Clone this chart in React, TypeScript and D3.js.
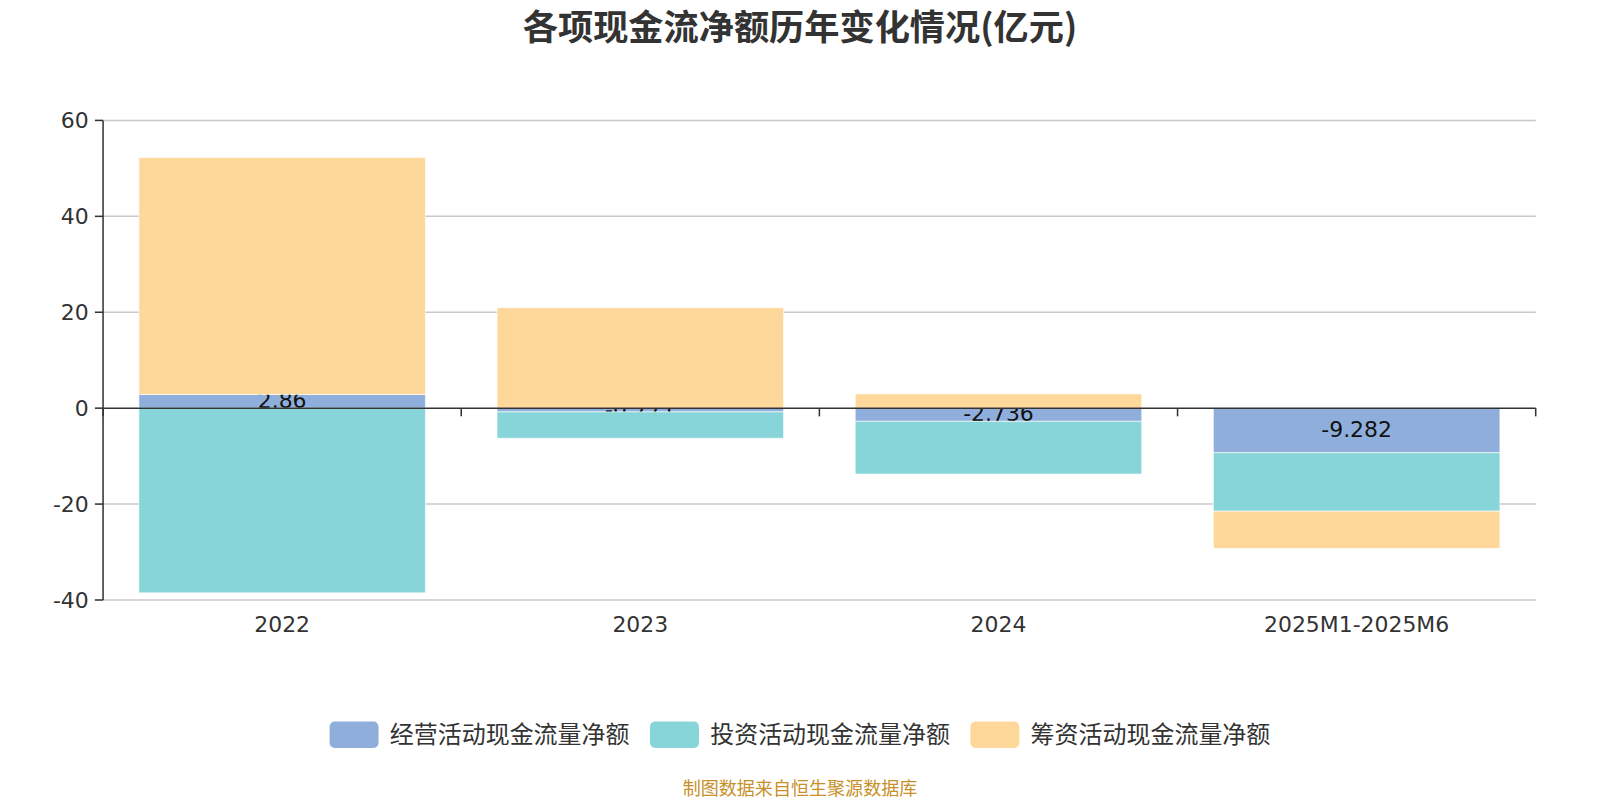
import React, { useEffect, useRef } from "react";
import * as d3 from "d3";

const categories = ["2022", "2023", "2024", "2025M1-2025M6"];
const seriesNames = ["经营活动现金流量净额", "投资活动现金流量净额", "筹资活动现金流量净额"];
const operating = [2.86, -0.771, -2.736, -9.282];
const investing = [-38.5, -5.5, -11.0, -12.2];
const financing = [49.4, 20.96, 2.98, -7.77];
const yTicks = [-40, -20, 0, 20, 40, 60];

const colors = ["#8FAEDB", "#87D5D9", "#FED89B"];
const numFont = "'DejaVu Sans', 'Noto Sans CJK SC', sans-serif";
const cjkFont = "'Noto Sans CJK SC', 'Noto Sans', sans-serif";

export default function App() {
  const ref = useRef<SVGSVGElement | null>(null);

  useEffect(() => {
    document.body.style.margin = "0";
    // drawing space is 1568x784, stretched onto 1600x800
    const vw = 1568;
    const vh = 784;
    const left = 101;
    const right = 1505;
    const top = 118;
    const bottom = 588;

    const svg = d3.select(ref.current);
    svg.selectAll("*").remove();
    svg
      .attr("width", 1600)
      .attr("height", 800)
      .attr("viewBox", `0 0 ${vw} ${vh}`)
      .style("font-family", numFont);

    const x = d3.scaleBand<string>().domain(categories).range([left, right]).paddingInner(0.2).paddingOuter(0.1);
    const band = d3.scaleBand<string>().domain(categories).range([left, right]);
    const y = d3.scaleLinear().domain([-40, 60]).range([bottom, top]);

    // grid
    svg
      .append("g")
      .selectAll("line")
      .data(yTicks.filter((t) => t !== 0))
      .join("line")
      .attr("x1", left)
      .attr("x2", right)
      .attr("y1", (d) => y(d))
      .attr("y2", (d) => y(d))
      .attr("stroke", "#c8c8c8")
      .attr("stroke-width", 1.5);

    // stacked bars, positive and negative stacked separately
    const all = [operating, investing, financing];
    const pos = categories.map(() => 0);
    const neg = categories.map(() => 0);
    const layers = all.map((vals) =>
      vals.map((v, i) => {
        let y0, y1;
        if (v >= 0) {
          y0 = pos[i];
          y1 = pos[i] + v;
          pos[i] = y1;
        } else {
          y0 = neg[i];
          y1 = neg[i] + v;
          neg[i] = y1;
        }
        return { cat: categories[i], v, y0, y1 };
      })
    );

    layers.forEach((layer, si) => {
      const g = svg.append("g");
      g.selectAll("rect")
        .data(layer)
        .join("rect")
        .attr("x", (d) => x(d.cat)!)
        .attr("width", x.bandwidth())
        .attr("y", (d) => y(Math.max(d.y0, d.y1)))
        .attr("height", (d) => Math.abs(y(d.y0) - y(d.y1)))
        .attr("fill", colors[si])
        .attr("stroke", "rgba(255,255,255,0.6)")
        .attr("stroke-width", 1);
      if (si === 0) {
        g.selectAll("text")
          .data(layer)
          .join("text")
          .attr("x", (d) => x(d.cat)! + x.bandwidth() / 2)
          .attr("y", (d) => (y(d.y0) + y(d.y1)) / 2 - 1)
          .attr("dy", "0.35em")
          .attr("text-anchor", "middle")
          .attr("font-size", 21.5)
          .attr("fill", "#111")
          .text((d) => String(d.v));
      }
    });

    // x axis at zero
    const zeroY = y(0);
    svg
      .append("line")
      .attr("x1", left)
      .attr("x2", right)
      .attr("y1", zeroY)
      .attr("y2", zeroY)
      .attr("stroke", "#333")
      .attr("stroke-width", 1.5);
    const boundaries = categories.map((c) => band(c)!).concat([right]);
    svg
      .append("g")
      .selectAll("line")
      .data(boundaries)
      .join("line")
      .attr("x1", (d) => d)
      .attr("x2", (d) => d)
      .attr("y1", zeroY)
      .attr("y2", zeroY + 8)
      .attr("stroke", "#333")
      .attr("stroke-width", 1.5);
    svg
      .append("g")
      .selectAll("text")
      .data(categories)
      .join("text")
      .attr("x", (d) => band(d)! + band.bandwidth() / 2)
      .attr("y", 612)
      .attr("dy", "0.35em")
      .attr("text-anchor", "middle")
      .attr("font-size", 21.5)
      .attr("fill", "#333")
      .text((d) => d);

    // y axis
    svg
      .append("line")
      .attr("x1", left)
      .attr("x2", left)
      .attr("y1", top)
      .attr("y2", bottom)
      .attr("stroke", "#333")
      .attr("stroke-width", 1.5);
    const yg = svg.append("g");
    yg.selectAll("line")
      .data(yTicks)
      .join("line")
      .attr("x1", left - 8)
      .attr("x2", left)
      .attr("y1", (d) => y(d))
      .attr("y2", (d) => y(d))
      .attr("stroke", "#333")
      .attr("stroke-width", 1.5);
    yg.selectAll("text")
      .data(yTicks)
      .join("text")
      .attr("x", left - 14)
      .attr("y", (d) => y(d))
      .attr("dy", "0.35em")
      .attr("text-anchor", "end")
      .attr("font-size", 21.5)
      .attr("fill", "#333")
      .text((d) => d);

    // title
    svg
      .append("text")
      .attr("x", 784)
      .attr("y", 27.5)
      .attr("dy", "0.35em")
      .attr("text-anchor", "middle")
      .attr("font-family", cjkFont)
      .attr("font-size", 34.5)
      .attr("font-weight", "bold")
      .attr("fill", "#333")
      .text("各项现金流净额历年变化情况(亿元)");

    // legend
    const legendX = [323, 637, 951];
    const lg = svg
      .append("g")
      .selectAll("g")
      .data(seriesNames)
      .join("g")
      .attr("transform", (_d, i) => `translate(${legendX[i]}, 720)`);
    lg.append("rect")
      .attr("x", 0)
      .attr("y", -13)
      .attr("width", 48)
      .attr("height", 26)
      .attr("rx", 5)
      .attr("fill", (_d, i) => colors[i]);
    lg.append("text")
      .attr("x", 59)
      .attr("y", 0)
      .attr("dy", "0.35em")
      .attr("font-family", cjkFont)
      .attr("font-size", 23.5)
      .attr("fill", "#333")
      .text((d) => d);

    // footer
    svg
      .append("text")
      .attr("x", 784)
      .attr("y", 773)
      .attr("dy", "0.35em")
      .attr("text-anchor", "middle")
      .attr("font-family", cjkFont)
      .attr("font-size", 17.7)
      .attr("fill", "#C8902A")
      .text("制图数据来自恒生聚源数据库");
  }, []);

  return <svg ref={ref} style={{ display: "block" }} />;
}
